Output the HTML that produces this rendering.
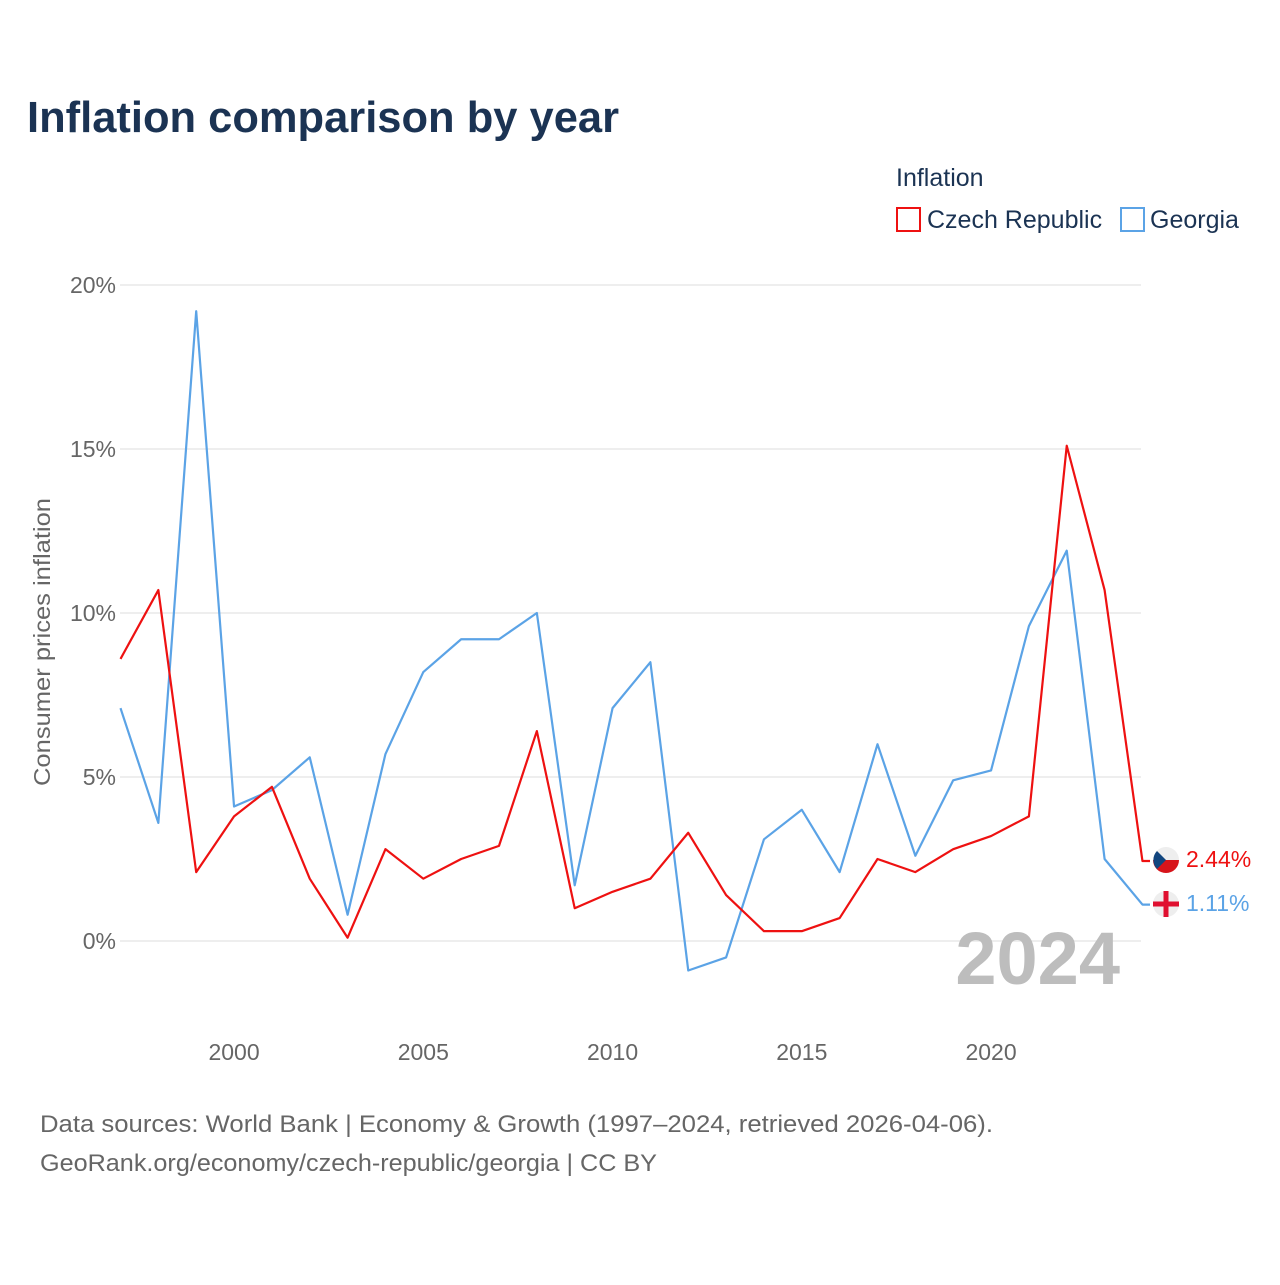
<!DOCTYPE html>
<html><head><meta charset="utf-8"><style>
body{margin:0;width:1280px;height:1280px;background:#fff;font-family:"Liberation Sans",sans-serif;overflow:hidden}
</style></head><body>
<svg id="chart" width="1280" height="1280" xmlns="http://www.w3.org/2000/svg">
<text x="27" y="132" font-size="44" font-weight="bold" fill="#1b3353" textLength="592" lengthAdjust="spacingAndGlyphs">Inflation comparison by year</text>
<text x="896" y="186" font-size="25" fill="#1b3353">Inflation</text>
<g><rect x="897" y="208" width="23" height="23" fill="#fff" stroke="#ee1111" stroke-width="2"/><text x="927" y="228" font-size="25" fill="#1b3353">Czech Republic</text></g>
<g><rect x="1121" y="208" width="23" height="23" fill="#fff" stroke="#5ba3e6" stroke-width="2"/><text x="1150" y="228" font-size="25" fill="#1b3353">Georgia</text></g>
<text transform="translate(50,642) rotate(-90)" x="-144" font-size="23" fill="#666" textLength="288" lengthAdjust="spacingAndGlyphs">Consumer prices inflation</text>
<g id="grid"></g><g id="xticks"></g>
<text x="1120" y="984" text-anchor="end" font-size="74" font-weight="bold" fill="#bdbdbd">2024</text>
<g id="lines"></g>
<g><circle cx="1166" cy="860" r="13" fill="#eee"/><path d="M1153,860 A13,13 0 0 0 1179,860 Z" fill="#d7141a"/><path d="M1157,851 L1166,860 L1157,869 A13,13 0 0 1 1157,851Z" fill="#11457e"/></g>
<g><circle cx="1166" cy="904" r="13" fill="#eee"/><rect x="1153" y="901.5" width="26" height="5" fill="#e01030"/><rect x="1163.5" y="891" width="5" height="26" fill="#e01030"/></g>
<text x="1186" y="867" font-size="23" fill="#ee1111">2.44%</text>
<text x="1186" y="911" font-size="23" fill="#5ba3e6">1.11%</text>
<text x="40" y="1132" font-size="24" fill="#666" textLength="953" lengthAdjust="spacingAndGlyphs">Data sources: World Bank | Economy &amp; Growth (1997–2024, retrieved 2026-04-06).</text>
<text x="40" y="1171" font-size="24" fill="#666" textLength="617" lengthAdjust="spacingAndGlyphs">GeoRank.org/economy/czech-republic/georgia | CC BY</text>
</svg>
<script>
const years=[1997,1998,1999,2000,2001,2002,2003,2004,2005,2006,2007,2008,2009,2010,2011,2012,2013,2014,2015,2016,2017,2018,2019,2020,2021,2022,2023,2024];
const czech=[8.6,10.7,2.1,3.8,4.7,1.9,0.1,2.8,1.9,2.5,2.9,6.4,1.0,1.5,1.9,3.3,1.4,0.3,0.3,0.7,2.5,2.1,2.8,3.2,3.8,15.1,10.7,2.44];
const georgia=[7.1,3.6,19.2,4.1,4.6,5.6,0.8,5.7,8.2,9.2,9.2,10.0,1.7,7.1,8.5,-0.9,-0.5,3.1,4.0,2.1,6.0,2.6,4.9,5.2,9.6,11.9,2.5,1.11];
const yTicks=[0,5,10,15,20];
const xTicks=[2000,2005,2010,2015,2020];
const NS="http://www.w3.org/2000/svg";
const X=y=>120.5+(y-1997)*37.85, Y=v=>941-v*32.8;
const grid=document.getElementById('grid');
yTicks.forEach(t=>{
 const l=document.createElementNS(NS,'line');
 l.setAttribute('x1',120);l.setAttribute('x2',1141);l.setAttribute('y1',Y(t));l.setAttribute('y2',Y(t));l.setAttribute('stroke','#e8e8e8');l.setAttribute('stroke-width',1.5);
 
 
 grid.appendChild(l);
 const tx=document.createElementNS(NS,'text');
 tx.setAttribute('x',116);tx.setAttribute('y',Y(t)+8);tx.setAttribute('text-anchor','end');tx.setAttribute('font-size',23);tx.setAttribute('fill','#666');
 tx.textContent=t+'%';
 
 
 grid.appendChild(tx);
});
const xg=document.getElementById('xticks');
xTicks.forEach(t=>{
 const tx=document.createElementNS(NS,'text');
 tx.setAttribute('x',X(t));tx.setAttribute('y',1060);tx.setAttribute('text-anchor','middle');tx.setAttribute('font-size',23);tx.setAttribute('fill','#666');
 tx.textContent=t;
 
 
 xg.appendChild(tx);
});
const lg=document.getElementById('lines');
[[georgia,'#5ba3e6','georgia-line'],[czech,'#ee1111','czech-line']].forEach(([d,c,n])=>{
 const p=document.createElementNS(NS,'path');
 let s=d.map((v,i)=>(i?'L':'M')+X(years[i])+','+Y(v)).join(' ');
 s+=' L1150,'+Y(d[d.length-1]);
 p.setAttribute('d',s);p.setAttribute('fill','none');p.setAttribute('stroke',c);p.setAttribute('stroke-width',2.2);p.setAttribute('stroke-linejoin','round');
 
 
 lg.appendChild(p);
});
</script>
</body></html>
